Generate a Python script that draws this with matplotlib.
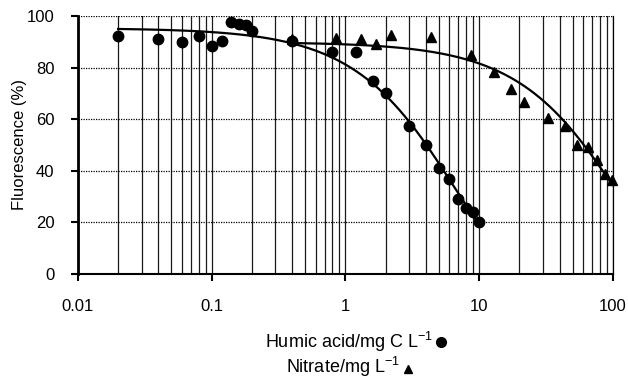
import numpy as np
import matplotlib
matplotlib.use("Agg")
import matplotlib.pyplot as plt
from matplotlib.lines import Line2D
from matplotlib.ticker import LogLocator, NullFormatter

# datos
humic_x = [0.02, 0.04, 0.06, 0.08, 0.1, 0.12, 0.14, 0.16, 0.18, 0.2, 0.4,
           0.8, 1.2, 1.6, 2.0, 3.0, 4.0, 5.0, 6.0, 7.0, 8.0, 9.0, 10.0]
humic_y = [92.2, 91.2, 90.0, 92.2, 88.4, 90.4, 97.8, 96.9, 96.5, 94.2, 90.4,
           86.2, 86.2, 74.9, 70.0, 57.4, 49.9, 41.0, 36.7, 29.1, 25.7, 23.9, 20.0]

nitrate_x = [0.4, 0.85, 1.3, 1.7, 2.2, 4.4, 8.7, 13, 17.3, 21.8, 32.6,
             44, 54, 65, 76, 87, 99]
nitrate_y = [91.0, 91.5, 91.0, 89.0, 92.5, 91.8, 85.0, 78.3, 71.5, 66.7, 60.5,
             57.3, 50.1, 49.1, 44.3, 38.8, 36.6]

y_ticks = [0, 20, 40, 60, 80, 100]
x_ticks = [0.01, 0.1, 1, 10, 100]
x_labels = ["0.01", "0.1", "1", "10", "100"]

plt.rcParams['font.family'] = ['Liberation Sans', 'DejaVu Sans']
plt.rcParams['mathtext.default'] = 'regular'


def ajuste_exp(x, y):
    # línea de tendencia exponencial (como la de Excel): ln(y) = a + b*x
    b, a = np.polyfit(x, np.log(y), 1)
    xs = np.logspace(np.log10(min(x)), np.log10(max(x)), 200)
    return xs, np.exp(a + b * xs)


fig = plt.figure(figsize=(6.28, 3.80), dpi=100)
ax = fig.add_axes([0.124, 0.279, 0.852, 0.679])

ax.set_xscale('log')
ax.set_xlim(0.01, 100)
ax.set_ylim(0, 100)

# rejilla
ax.xaxis.set_minor_locator(LogLocator(base=10, subs=np.arange(2, 10)))
ax.xaxis.set_minor_formatter(NullFormatter())
ax.grid(True, which='both', axis='x', color='#1a1a1a', lw=0.9)
ax.grid(True, which='major', axis='y', color='black', lw=0.9, ls=(0, (1, 1)))
ax.set_axisbelow(True)

xs, ys = ajuste_exp(humic_x, humic_y)
ax.plot(xs, ys, color='black', lw=1.6, zorder=3)
xs, ys = ajuste_exp(nitrate_x, nitrate_y)
ax.plot(xs, ys, color='black', lw=1.6, zorder=3)

ax.plot(humic_x, humic_y, 'o', color='black', ms=7.5, zorder=4, clip_on=False)
ax.plot(nitrate_x, nitrate_y, '^', color='black', ms=7.5, zorder=4, clip_on=False)

ax.set_xticks(x_ticks)
ax.set_xticklabels(x_labels)
ax.set_yticks(y_ticks)
ax.tick_params(axis='both', which='major', labelsize=12, direction='out',
               length=5, width=1.5, color='black')
ax.tick_params(axis='x', which='major', pad=13)
ax.tick_params(axis='y', which='major', pad=12)
ax.tick_params(axis='x', which='minor', length=0)

ax.spines['top'].set_visible(False)
ax.spines['right'].set_linewidth(0.9)
ax.spines['left'].set_linewidth(2)
ax.spines['bottom'].set_linewidth(1.5)

ax.set_ylabel("Fluorescence (%)", fontsize=12, labelpad=0)

# leyenda debajo del eje (texto y símbolo a la derecha)
fig.text(0.690, 0.100, "Humic acid/mg C L$^{-1}$", ha='right', va='center', fontsize=13)
fig.text(0.637, 0.034, "Nitrate/mg L$^{-1}$", ha='right', va='center', fontsize=13)
fig.add_artist(Line2D([0.703], [0.100], transform=fig.transFigure, marker='o',
                      color='black', ms=7, ls='none'))
fig.add_artist(Line2D([0.650], [0.030], transform=fig.transFigure, marker='^',
                      color='black', ms=6, ls='none'))

fig.savefig("out.png", dpi=100)
